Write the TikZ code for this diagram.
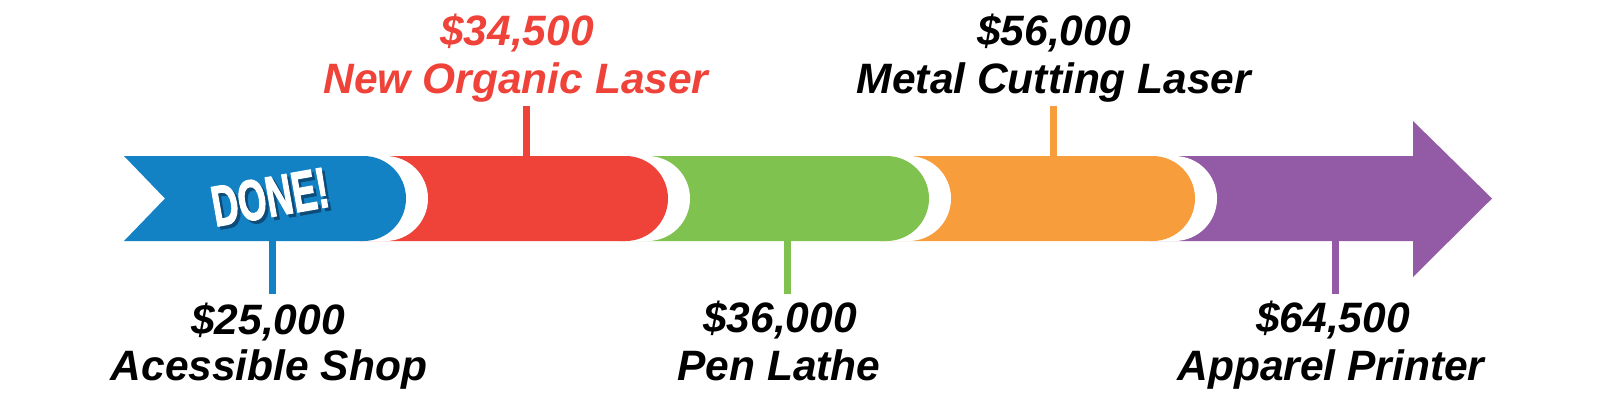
\documentclass[tikz,border=0pt]{standalone}
\usepackage{fontspec}
\setmainfont{Liberation Sans}
\newfontfamily\donefont[BoldFeatures={FakeBold=2.5}]{Liberation Sans}
\usepackage{graphicx}
\definecolor{cblue}{HTML}{1282C5}
\definecolor{cred}{HTML}{EF4239}
\definecolor{cgreen}{HTML}{7FC250}
\definecolor{corange}{HTML}{F89D3B}
\definecolor{cpurple}{HTML}{935AA5}
\definecolor{cshadow}{HTML}{0D4B78}
\begin{document}
\begin{tikzpicture}[x=1pt,y=-1pt,
  lbl/.style={anchor=base,inner sep=0pt,font=\fontsize{42.5}{48}\selectfont\bfseries\itshape},
  tickline/.style={line width=7pt},
  gap/.style={fill=white},
  donetxt/.style={rotate=10,inner sep=0pt,font=\donefont\fontsize{57}{60}\selectfont\bfseries}]
\useasboundingbox (0,0) rectangle (1600,400);
% purple arrow
\fill[cpurple] (1150,156) -- (1413,156) -- (1413,121) -- (1492,198.5) -- (1413,277) -- (1413,241) -- (1150,241) -- cycle;
% orange
\fill[gap] (902,156) -- (1174.5,156) arc[start angle=-90,end angle=90,radius=42.5] -- (902,241) -- cycle;
\fill[corange] (880,156) -- (1152.5,156) arc[start angle=-90,end angle=90,radius=42.5] -- (880,241) -- cycle;
% green
\fill[gap] (642,156) -- (908.5,156) arc[start angle=-90,end angle=90,radius=42.5] -- (642,241) -- cycle;
\fill[cgreen] (620,156) -- (886.5,156) arc[start angle=-90,end angle=90,radius=42.5] -- (620,241) -- cycle;
% red
\fill[gap] (382,156) -- (647.5,156) arc[start angle=-90,end angle=90,radius=42.5] -- (382,241) -- cycle;
\fill[cred] (360,156) -- (625.5,156) arc[start angle=-90,end angle=90,radius=42.5] -- (360,241) -- cycle;
% blue
\fill[gap] (200,156) -- (385.5,156) arc[start angle=-90,end angle=90,radius=42.5] -- (200,241) -- cycle;
\fill[cblue] (124,156) -- (363.5,156) arc[start angle=-90,end angle=90,radius=42.5] -- (124,241) -- (165,198.5) -- cycle;
% DONE!
\node[donetxt,text=cshadow] (doneshadow) at (273,200) {\scalebox{0.64}[1]{DONE!}};
\node[donetxt,text=white] (done) at (270,197) {\scalebox{0.64}[1]{DONE!}};
% ticks
\coordinate (t1a) at (272.5,240); \coordinate (t1b) at (272.5,294);
\coordinate (t2a) at (526,157);   \coordinate (t2b) at (526,106);
\coordinate (t3a) at (787,240);   \coordinate (t3b) at (787,294);
\coordinate (t4a) at (1053,157);  \coordinate (t4b) at (1053,106);
\coordinate (t5a) at (1335,240);  \coordinate (t5b) at (1335,294);
\draw[tickline,cblue] (t1a) -- (t1b);
\draw[tickline,cred] (t2a) -- (t2b);
\draw[tickline,cgreen] (t3a) -- (t3b);
\draw[tickline,corange] (t4a) -- (t4b);
\draw[tickline,cpurple] (t5a) -- (t5b);
% labels
\node[lbl] (p1) at (268,334) {\$25,000};
\node[lbl] (n1) at (269,380) {Acessible Shop};
\node[lbl,text=cred] (p2) at (517,45) {\$34,500};
\node[lbl,text=cred] (n2) at (516,93) {New Organic Laser};
\node[lbl] (p3) at (780,332) {\$36,000};
\node[lbl] (n3) at (779,380) {Pen Lathe};
\node[lbl] (p4) at (1054,45) {\$56,000};
\node[lbl] (n4) at (1054,93) {Metal Cutting Laser};
\node[lbl] (p5) at (1333,332) {\$64,500};
\node[lbl] (n5) at (1331,380) {Apparel Printer};
\end{tikzpicture}
\end{document}
